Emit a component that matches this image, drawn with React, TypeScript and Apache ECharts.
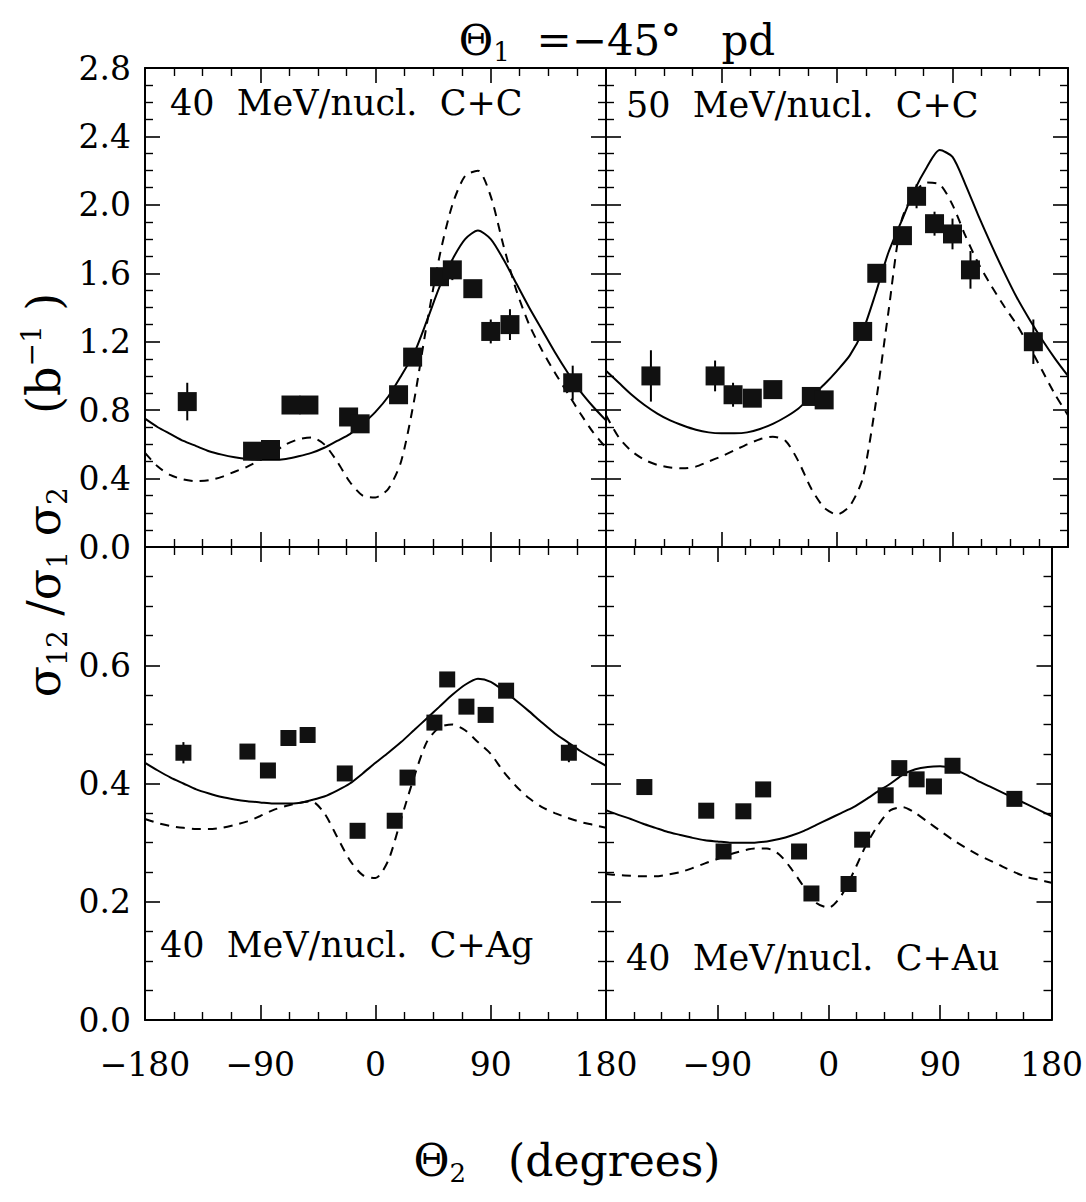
import React, { useEffect, useRef } from "react";
import * as echarts from "echarts";

// ---- curve angle grid (degrees) ----
const curveAngles = [-180, -170, -160, -150, -140, -130, -120, -110, -100, -90, -80, -70, -60, -50, -40, -30, -20, -10, 0, 10, 20, 30, 40, 50, 60, 70, 80, 90, 100, 110, 120, 130, 140, 150, 160, 170, 180];

// ---- panel 0: 40 MeV/nucl. C+C ----
const p0X = [-147, -96, -82, -66, -52, -21, -12, 18, 29, 50, 60, 76, 90, 105, 154];
const p0Y = [0.85, 0.56, 0.57, 0.83, 0.83, 0.76, 0.72, 0.89, 1.11, 1.58, 1.62, 1.51, 1.26, 1.30, 0.96];
const p0E = [0.11, 0.03, 0.03, 0.03, 0.03, 0.03, 0.03, 0.04, 0.04, 0.04, 0.06, 0.04, 0.07, 0.09, 0.1];
const p0Solid = [0.75, 0.70, 0.66, 0.62, 0.59, 0.56, 0.54, 0.525, 0.515, 0.51, 0.51, 0.515, 0.53, 0.55, 0.58, 0.62, 0.66, 0.72, 0.79, 0.88, 1.0, 1.13, 1.32, 1.52, 1.68, 1.80, 1.85, 1.80, 1.68, 1.54, 1.40, 1.27, 1.14, 1.02, 0.91, 0.82, 0.74];
const p0Dash = [0.55, 0.47, 0.42, 0.395, 0.385, 0.39, 0.41, 0.44, 0.47, 0.51, 0.55, 0.60, 0.63, 0.64, 0.60, 0.50, 0.38, 0.30, 0.29, 0.34, 0.50, 0.85, 1.30, 1.70, 2.00, 2.17, 2.20, 2.05, 1.76, 1.50, 1.30, 1.15, 1.02, 0.90, 0.78, 0.67, 0.58];

// ---- panel 1: 50 MeV/nucl. C+C ----
const p1X = [-145, -95, -81, -66, -50, -20, -10, 20, 31, 51, 62, 76, 90, 104, 153];
const p1Y = [1.00, 1.00, 0.89, 0.87, 0.92, 0.88, 0.86, 1.26, 1.60, 1.82, 2.05, 1.89, 1.83, 1.62, 1.20];
const p1E = [0.15, 0.09, 0.07, 0.04, 0.05, 0.03, 0.03, 0.03, 0.03, 0.04, 0.07, 0.07, 0.09, 0.11, 0.13];
const p1Solid = [1.03, 0.96, 0.89, 0.83, 0.78, 0.74, 0.71, 0.685, 0.67, 0.665, 0.665, 0.67, 0.69, 0.72, 0.76, 0.81, 0.88, 0.95, 1.03, 1.12, 1.26, 1.48, 1.72, 1.90, 2.08, 2.22, 2.32, 2.28, 2.12, 1.94, 1.77, 1.61, 1.46, 1.33, 1.21, 1.10, 1.00];
const p1Dash = [0.77, 0.64, 0.56, 0.51, 0.48, 0.465, 0.46, 0.47, 0.50, 0.53, 0.565, 0.60, 0.63, 0.645, 0.62, 0.50, 0.34, 0.23, 0.19, 0.24, 0.40, 0.83, 1.37, 1.90, 2.07, 2.13, 2.12, 2.00, 1.82, 1.66, 1.53, 1.41, 1.30, 1.17, 1.03, 0.89, 0.77];

// ---- panel 2: 40 MeV/nucl. C+Ag ----
const p2X = [-150, -100, -84, -68, -53, -24, -14, 15, 25, 46, 56, 71, 86, 102, 151];
const p2Y = [0.452, 0.454, 0.422, 0.477, 0.482, 0.417, 0.32, 0.337, 0.41, 0.503, 0.576, 0.53, 0.516, 0.557, 0.452];
const p2E = [0.018, 0.01, 0.01, 0.01, 0.01, 0.01, 0.01, 0.01, 0.012, 0.01, 0.012, 0.01, 0.01, 0.012, 0.016];
const p2Solid = [0.435, 0.422, 0.41, 0.40, 0.39, 0.383, 0.377, 0.373, 0.37, 0.368, 0.366, 0.366, 0.367, 0.372, 0.378, 0.388, 0.40, 0.417, 0.435, 0.452, 0.47, 0.49, 0.51, 0.53, 0.55, 0.567, 0.577, 0.572, 0.557, 0.54, 0.522, 0.503, 0.485, 0.47, 0.455, 0.442, 0.43];
const p2Dash = [0.34, 0.333, 0.328, 0.325, 0.323, 0.323, 0.325, 0.33, 0.336, 0.345, 0.355, 0.362, 0.367, 0.37, 0.35, 0.31, 0.27, 0.245, 0.24, 0.27, 0.34, 0.41, 0.47, 0.495, 0.50, 0.49, 0.47, 0.45, 0.42, 0.395, 0.375, 0.36, 0.35, 0.342, 0.335, 0.33, 0.325];

// ---- panel 3: 40 MeV/nucl. C+Au ----
const p3X = [-149, -99, -85, -69, -53, -24, -14, 16, 27, 46, 57, 71, 85, 100, 150];
const p3Y = [0.394, 0.354, 0.285, 0.353, 0.39, 0.285, 0.214, 0.23, 0.305, 0.38, 0.426, 0.407, 0.395, 0.43, 0.374];
const p3E = [0.01, 0.01, 0.01, 0.01, 0.01, 0.01, 0.01, 0.01, 0.01, 0.01, 0.01, 0.01, 0.01, 0.01, 0.01];
const p3Solid = [0.355, 0.347, 0.34, 0.332, 0.325, 0.318, 0.313, 0.308, 0.304, 0.302, 0.30, 0.30, 0.30, 0.302, 0.306, 0.312, 0.32, 0.33, 0.34, 0.35, 0.36, 0.373, 0.387, 0.40, 0.415, 0.424, 0.428, 0.429, 0.425, 0.416, 0.405, 0.395, 0.385, 0.375, 0.365, 0.355, 0.345];
const p3Dash = [0.247, 0.245, 0.244, 0.243, 0.243, 0.246, 0.25, 0.257, 0.265, 0.272, 0.28, 0.286, 0.29, 0.29, 0.28, 0.255, 0.225, 0.198, 0.19, 0.21, 0.25, 0.295, 0.33, 0.355, 0.36, 0.35, 0.335, 0.32, 0.305, 0.292, 0.28, 0.27, 0.26, 0.25, 0.242, 0.237, 0.232];

// ---- labels / ticks ----
const panelLabels = ["40  MeV/nucl.  C+C", "50  MeV/nucl.  C+C", "40  MeV/nucl.  C+Ag", "40  MeV/nucl.  C+Au"];
const topYMax = 2.8;
const topYStep = 0.4;
const bottomYMax = 0.8;
const bottomYStep = 0.2;
const xMin = -180;
const xMax = 180;
const xStep = 90;

const FONT = "DejaVu Serif";

const panels = [
  { x: p0X, y: p0Y, e: p0E, solid: p0Solid, dash: p0Dash },
  { x: p1X, y: p1Y, e: p1E, solid: p1Solid, dash: p1Dash },
  { x: p2X, y: p2Y, e: p2E, solid: p2Solid, dash: p2Dash },
  { x: p3X, y: p3Y, e: p3E, solid: p3Solid, dash: p3Dash },
];

const gridRects = [
  { left: 145, top: 68, width: 461, height: 479 },
  { left: 606, top: 68, width: 462, height: 479 },
  { left: 145, top: 547, width: 461, height: 473 },
  { left: 606, top: 547, width: 462, height: 473 },
];

const labelPos = [
  { x: 170, y: 103 },
  { x: 626, y: 105 },
  { x: 160, y: 945 },
  { x: 626, y: 958 },
];

function fmtX(v: number) {
  return v < 0 ? "\u2212" + String(-v) : String(v);
}

function buildOption() {
  const grids: any[] = [];
  const xAxes: any[] = [];
  const yAxes: any[] = [];
  const series: any[] = [];
  const black = "#000";

  panels.forEach((p, i) => {
    const isTop = i < 2;
    const isLeft = i % 2 === 0;
    grids.push({ ...gridRects[i], containLabel: false });
    const tickBase = {
      show: true,
      inside: true,
      length: 15,
      lineStyle: { color: black, width: 1.6 },
    };
    const minorBase = {
      show: true,
      splitNumber: 4,
      length: 8,
      lineStyle: { color: black, width: 1.4 },
    };
    xAxes.push({
      type: "value",
      gridIndex: i,
      position: "bottom",
      min: xMin,
      max: xMax,
      interval: xStep,
      axisLine: { show: true, onZero: false, lineStyle: { color: black, width: 2 } },
      axisTick: tickBase,
      minorTick: minorBase,
      splitLine: { show: false },
      axisLabel: {
        show: !isTop,
        margin: 28,
        color: black,
        fontFamily: FONT,
        fontSize: 33,
        formatter: (v: number) => (!isLeft && v === -180 ? "" : fmtX(v)),
      },
    });
    xAxes.push({
      type: "value",
      gridIndex: i,
      position: "top",
      min: xMin,
      max: xMax,
      interval: xStep,
      axisLine: { show: true, onZero: false, lineStyle: { color: black, width: 2 } },
      axisTick: tickBase,
      minorTick: minorBase,
      splitLine: { show: false },
      axisLabel: { show: false },
    });
    const yMax = isTop ? topYMax : bottomYMax;
    const yStep = isTop ? topYStep : bottomYStep;
    yAxes.push({
      type: "value",
      gridIndex: i,
      position: "left",
      min: 0,
      max: yMax,
      interval: yStep,
      axisLine: { show: true, onZero: false, lineStyle: { color: black, width: 2 } },
      axisTick: tickBase,
      minorTick: minorBase,
      splitLine: { show: false },
      axisLabel: {
        show: isLeft,
        margin: 14,
        color: black,
        fontFamily: FONT,
        fontSize: 33,
        formatter: (v: number) => (!isTop && Math.abs(v - yMax) < 1e-9 ? "" : v.toFixed(1)),
      },
    });
    yAxes.push({
      type: "value",
      gridIndex: i,
      position: "right",
      min: 0,
      max: yMax,
      interval: yStep,
      axisLine: { show: true, onZero: false, lineStyle: { color: black, width: 2 } },
      axisTick: tickBase,
      minorTick: minorBase,
      splitLine: { show: false },
      axisLabel: { show: false },
    });

    const xi = i * 2;
    const yi = i * 2;
    series.push({
      type: "line",
      xAxisIndex: xi,
      yAxisIndex: yi,
      data: curveAngles.map((a, k) => [a, p.solid[k]]),
      showSymbol: false,
      smooth: 0.25,
      lineStyle: { color: black, width: 2 },
      z: 3,
    });
    series.push({
      type: "line",
      xAxisIndex: xi,
      yAxisIndex: yi,
      data: curveAngles.map((a, k) => [a, p.dash[k]]),
      showSymbol: false,
      smooth: 0.25,
      lineStyle: { color: black, width: 2, type: [9, 7] },
      z: 3,
    });
    series.push({
      type: "custom",
      xAxisIndex: xi,
      yAxisIndex: yi,
      data: p.x.map((x, k) => [x, p.y[k], p.e[k]]),
      encode: { x: 0, y: 1 },
      renderItem: (params: any, api: any) => {
        const x = api.value(0);
        const y = api.value(1);
        const e = api.value(2);
        const lo = api.coord([x, y - e]);
        const hi = api.coord([x, y + e]);
        return {
          type: "line",
          shape: { x1: lo[0], y1: lo[1], x2: hi[0], y2: hi[1] },
          style: { stroke: black, lineWidth: 2 },
        };
      },
      z: 2,
    });
    series.push({
      type: "scatter",
      xAxisIndex: xi,
      yAxisIndex: yi,
      data: p.x.map((x, k) => [x, p.y[k]]),
      symbol: "rect",
      symbolSize: isTop ? 19 : 16,
      itemStyle: { color: "#111", opacity: 1 },
      z: 5,
    });
  });

  const graphic: any[] = [
    {
      type: "text",
      x: 617,
      y: 40,
      style: {
        text: "{t|\u0398}{s|1}{t|  =\u221245\u00b0   pd}",
        rich: {
          t: { fontFamily: FONT, fontSize: 42, fill: "#000", lineHeight: 50 },
          s: { fontFamily: FONT, fontSize: 26, fill: "#000", verticalAlign: "bottom", lineHeight: 26 },
        },
        align: "center",
        verticalAlign: "middle",
      },
    },
    {
      type: "text",
      x: 44,
      y: 495,
      rotation: Math.PI / 2,
      style: {
        text: "{m|\u03c3}{s|12}{m| /\u03c3}{s|1}{m| \u03c3}{s|2}{m|     (b}{p|\u22121}{m| )}",
        rich: {
          m: { fontFamily: FONT, fontSize: 46, fill: "#000", lineHeight: 54 },
          s: { fontFamily: FONT, fontSize: 28, fill: "#000", verticalAlign: "bottom", lineHeight: 28 },
          p: { fontFamily: FONT, fontSize: 28, fill: "#000", verticalAlign: "top", lineHeight: 28 },
        },
        align: "center",
        verticalAlign: "middle",
      },
    },
    {
      type: "text",
      x: 567,
      y: 1160,
      style: {
        text: "{m|\u0398}{s|2}{m|   (degrees)}",
        rich: {
          m: { fontFamily: FONT, fontSize: 44, fill: "#000", lineHeight: 52 },
          s: { fontFamily: FONT, fontSize: 26, fill: "#000", verticalAlign: "bottom", lineHeight: 26 },
        },
        align: "center",
        verticalAlign: "middle",
      },
    },
  ];
  panelLabels.forEach((t, i) => {
    graphic.push({
      type: "text",
      x: labelPos[i].x,
      y: labelPos[i].y,
      style: {
        text: t,
        fontFamily: FONT,
        fontSize: 35,
        fill: "#000",
        align: "left",
        verticalAlign: "middle",
      },
      z: 10,
    });
  });

  return {
    animation: false,
    backgroundColor: "#fff",
    grid: grids,
    xAxis: xAxes,
    yAxis: yAxes,
    series,
    graphic,
  };
}

export default function App() {
  const ref = useRef<HTMLDivElement>(null);
  useEffect(() => {
    if (!ref.current) return;
    const chart = echarts.init(ref.current, null, { renderer: "svg" });
    chart.setOption(buildOption() as any);
    return () => chart.dispose();
  }, []);
  return (
    <div
      ref={ref}
      style={{ position: "absolute", left: 0, top: 0, width: 1086, height: 1202, background: "#fff" }}
    />
  );
}
